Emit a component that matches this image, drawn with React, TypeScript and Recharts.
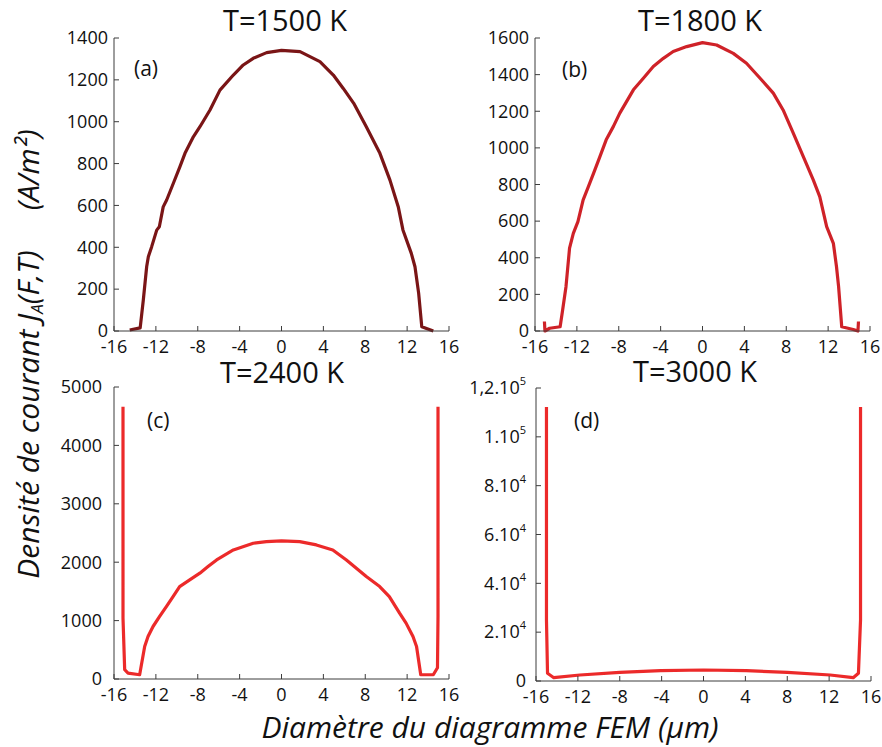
import React from 'react';
import { LineChart, Line, XAxis, YAxis } from 'recharts';

// shared x ticks (µm)
const xTicks = [-16, -12, -8, -4, 0, 4, 8, 12, 16];

// (a) T=1500 K
const xA = [-14.5, -13.5, -13.2, -12.88, -12.72, -12.4, -11.92, -11.67, -11.3, -10.97, -10.33, -9.7, -9.22, -8.42, -7.79, -6.83, -5.88, -4.6, -3.65, -2.7, -1.42, 0, 1.77, 3.67, 4.95, 5.9, 6.9, 8.1, 9.4, 10.36, 11.15, 11.6, 12.4, 12.75, 13.1, 13.4, 14.5];
const yA = [5, 15, 148, 307, 355, 403, 482, 498, 593, 626, 706, 785, 849, 928, 976, 1056, 1151, 1223, 1271, 1303, 1330, 1341, 1335, 1287, 1223, 1159, 1088, 976, 849, 721, 594, 483, 371, 307, 181, 20, 0];
const yTicksA = [0, 200, 400, 600, 800, 1000, 1200, 1400];

// (b) T=1800 K
const xB = [-15.1, -15.05, -14.6, -13.6, -13.36, -13.04, -12.7, -12.34, -11.9, -11.4, -10.9, -10.4, -9.8, -9.2, -8.52, -7.9, -6.6, -5.65, -4.7, -3.74, -2.8, -1.51, 0, 1.35, 2.94, 4.2, 5.5, 6.76, 7.7, 8.67, 9.63, 10.58, 11.2, 11.86, 12.5, 12.8, 13.0, 13.3, 14.4, 14.85, 14.9];
const yB = [52, 0, 15, 23, 115, 242, 452, 533, 597, 716, 788, 862, 952, 1044, 1116, 1190, 1317, 1380, 1444, 1489, 1526, 1553, 1575, 1562, 1516, 1462, 1380, 1299, 1207, 1080, 952, 825, 734, 570, 479, 351, 242, 23, 8, 0, 52];
const yTicksB = [0, 200, 400, 600, 800, 1000, 1200, 1400, 1600];

// (c) T=2400 K
const xC = [-15.14, -15.14, -14.98, -14.66, -13.55, -13.07, -12.75, -12.27, -11.64, -11.0, -10.36, -9.73, -8.77, -7.8, -7.02, -6.2, -4.6, -2.7, -1.44, 0, 1.74, 3.33, 4.9, 6.2, 8.1, 9.38, 10.3, 11.28, 11.9, 12.56, 12.9, 13.3, 14.5, 14.9, 14.95, 14.95];
const yC = [4660, 1043, 159, 102, 73, 557, 728, 899, 1071, 1241, 1412, 1583, 1697, 1812, 1925, 2039, 2210, 2325, 2352, 2364, 2352, 2296, 2210, 2039, 1754, 1583, 1412, 1128, 957, 728, 557, 73, 73, 193, 1072, 4660];
const yTicksC = [0, 1000, 2000, 3000, 4000, 5000];

// (d) T=3000 K
const xD = [-15.0, -15.0, -14.9, -14.3, -11.8, -8.0, -4.1, 0, 4.1, 8.0, 12.1, 14.3, 14.8, 15.0, 15.0];
const yD = [112200, 25000, 3150, 1350, 2460, 3570, 4220, 4500, 4220, 3570, 2460, 1350, 3150, 25000, 112200];
const yTicksD = [0, 20000, 40000, 60000, 80000, 100000, 120000];
const yMantD = ['0', '2.10', '4.10', '6.10', '8.10', '1.10', '1,2.10'];
const yExpD = ['', '4', '4', '4', '4', '5', '5'];

const FONT = '"Open Sans", sans-serif';
const AXIS = '#3c3c3c';
const TICK = 5;
const TFS = 18;

const toRows = (xs: number[], ys: number[]) => xs.map((x, i) => ({ x, y: ys[i] }));

type PanelProps = {
  left: number;
  top: number;
  w: number;
  h: number;
  xs: number[];
  ys: number[];
  yTicks: number[];
  color: string;
  gap: number;
  sup?: boolean;
};

const Panel = ({ left, top, w, h, xs, ys, yTicks, color, gap, sup }: PanelProps) => {
  const data = toRows(xs, ys);
  const yMax = yTicks[yTicks.length - 1];

  const leftTick = (p: any) => {
    const { x, y, payload, index } = p;
    return (
      <g>
        <line x1={x + gap} x2={x + gap + TICK} y1={y} y2={y} stroke={AXIS} />
        {sup && yExpD[index] ? (
          <text x={x} y={y} dy="0.35em" textAnchor="end" fontFamily={FONT} fontSize={TFS} fill="#111">
            {yMantD[index]}
            <tspan dy={-9} fontSize={11}>{yExpD[index]}</tspan>
          </text>
        ) : (
          <text x={x} y={y} dy="0.35em" textAnchor="end" fontFamily={FONT} fontSize={TFS} fill="#111">
            {sup ? yMantD[index] : payload.value}
          </text>
        )}
      </g>
    );
  };

  const bottomTick = (p: any) => {
    const { x, y, payload } = p;
    return (
      <g>
        <line x1={x} x2={x} y1={y - 9} y2={y - 9 - TICK} stroke={AXIS} />
        <text x={x} y={y} dy="0.71em" textAnchor="middle" fontFamily={FONT} fontSize={TFS} fill="#111">
          {payload.value}
        </text>
      </g>
    );
  };

  const topTick = (p: any) => <line x1={p.x} x2={p.x} y1={p.y} y2={p.y + TICK} stroke={AXIS} />;
  const rightTick = (p: any) => <line x1={p.x - TICK} x2={p.x} y1={p.y} y2={p.y} stroke={AXIS} />;

  return (
    <div style={{ position: 'absolute', left: left - 80, top: top - 20 }}>
      <LineChart
        width={w + 110}
        height={h + 60}
        data={data}
        margin={{ top: 20, right: 30, bottom: 10, left: 10 }}
      >
        <XAxis
          dataKey="x"
          type="number"
          domain={[-16, 16]}
          ticks={xTicks}
          interval={0}
          height={30}
          tickSize={0}
          tickMargin={9}
          tick={bottomTick}
          axisLine={{ stroke: AXIS }}
        />
        <XAxis
          xAxisId="top"
          orientation="top"
          dataKey="x"
          type="number"
          domain={[-16, 16]}
          ticks={xTicks}
          interval={0}
          height={0}
          tickSize={0}
          tickMargin={0}
          tick={topTick}
          axisLine={{ stroke: AXIS }}
        />
        <YAxis
          type="number"
          domain={[0, yMax]}
          ticks={yTicks}
          interval={0}
          width={70}
          tickSize={0}
          tickMargin={gap}
          tick={leftTick}
          axisLine={{ stroke: AXIS }}
        />
        <YAxis
          yAxisId="r"
          orientation="right"
          type="number"
          domain={[0, yMax]}
          ticks={yTicks}
          interval={0}
          width={0}
          tickSize={0}
          tickMargin={0}
          tick={rightTick}
          axisLine={{ stroke: AXIS }}
        />
        <Line
          type="linear"
          dataKey="y"
          stroke={color}
          strokeWidth={3.2}
          strokeLinejoin="round"
          dot={false}
          isAnimationActive={false}
        />
      </LineChart>
    </div>
  );
};

const titles = [
  { text: 'T=1500 K', x: 285, y: 31 },
  { text: 'T=1800 K', x: 700, y: 31 },
  { text: 'T=2400 K', x: 282, y: 383 },
  { text: 'T=3000 K', x: 695, y: 382 },
];

const tags = [
  { text: '(a)', x: 134, y: 76 },
  { text: '(b)', x: 562, y: 77 },
  { text: '(c)', x: 147, y: 428 },
  { text: '(d)', x: 574, y: 428 },
];

export default function App() {
  return (
    <div style={{ position: 'absolute', left: 0, top: 0, width: 882, height: 747, background: '#fff', overflow: 'hidden' }}>
      <Panel left={114} top={38} w={335} h={293} xs={xA} ys={yA} yTicks={yTicksA} color="#7a1516" gap={6} />
      <Panel left={535} top={38} w={335} h={293} xs={xB} ys={yB} yTicks={yTicksB} color="#cf2228" gap={6} />
      <Panel left={114} top={387} w={335} h={292} xs={xC} ys={yC} yTicks={yTicksC} color="#ec2a2a" gap={12} />
      <Panel left={536} top={388} w={335} h={293} xs={xD} ys={yD} yTicks={yTicksD} color="#ec2a2a" gap={10} sup />

      <svg width={882} height={747} style={{ position: 'absolute', left: 0, top: 0, pointerEvents: 'none' }}>
        {titles.map((t) => (
          <text key={t.text} x={t.x} y={t.y} textAnchor="middle" fontFamily={FONT} fontSize={29} fill="#111">
            {t.text}
          </text>
        ))}
        {tags.map((t) => (
          <text key={t.text} x={t.x} y={t.y} fontFamily={FONT} fontSize={21} fill="#111">
            {t.text}
          </text>
        ))}
        <text
          x={39}
          y={354}
          transform="rotate(-90 39 354)"
          textAnchor="middle"
          fontFamily={FONT}
          fontStyle="italic"
          fontSize={30}
          fill="#111"
        >
          Densité de courant J
          <tspan fontSize={17} dy={4}>A</tspan>
          <tspan dy={-4}>(F,T)</tspan>
          <tspan dx={40}>(A/m²)</tspan>
        </text>
        <text x={490} y={738} textAnchor="middle" fontFamily={FONT} fontStyle="italic" fontSize={30} fill="#111">
          Diamètre du diagramme FEM (µm)
        </text>
      </svg>
    </div>
  );
}
